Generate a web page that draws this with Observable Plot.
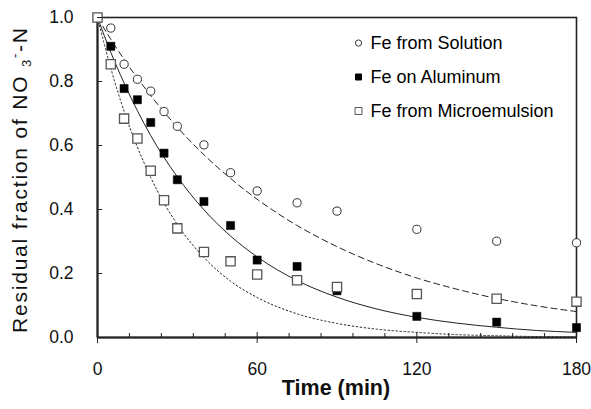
<!DOCTYPE html>
<html><head><meta charset="utf-8">
<script src="https://cdn.jsdelivr.net/npm/d3@7"></script>
<script src="https://cdn.jsdelivr.net/npm/@observablehq/plot@0.6"></script>
<style>
body{margin:0;background:#fff}
svg{font-family:"Liberation Sans",Arial,sans-serif}
</style>
</head><body><div id="chart"></div>
<script>
// measured data
const times = [0, 5, 10, 15, 20, 25, 30, 40, 50, 60, 75, 90, 120, 150, 180];
const solution = [1, 0.967, 0.854, 0.807, 0.770, 0.706, 0.660, 0.602, 0.515, 0.458, 0.421, 0.395, 0.338, 0.301, 0.296];
const aluminum = [1, 0.910, 0.778, 0.743, 0.672, 0.576, 0.493, 0.425, 0.350, 0.242, 0.222, 0.146, 0.066, 0.048, 0.031];
const microemulsion = [1, 0.854, 0.684, 0.622, 0.521, 0.429, 0.341, 0.267, 0.238, 0.197, 0.179, 0.158, 0.136, 0.121, 0.112];
// fitted curves
const fitTimes = [0, 5, 10, 20, 30, 40, 50, 60, 75, 90, 105, 120, 135, 150, 165, 180];
const fitSolution = [1, 0.932, 0.869, 0.756, 0.657, 0.571, 0.497, 0.432, 0.350, 0.284, 0.230, 0.186, 0.151, 0.122, 0.099, 0.081];
const fitAluminum = [1, 0.891, 0.795, 0.631, 0.502, 0.399, 0.317, 0.252, 0.178, 0.126, 0.089, 0.063, 0.045, 0.032, 0.022, 0.016];
const fitMicro = [1, 0.841, 0.707, 0.500, 0.353, 0.250, 0.176, 0.125, 0.074, 0.044, 0.026, 0.016, 0.009, 0.0055, 0.003, 0.002];
const seriesNames = ["Fe from Solution", "Fe on Aluminum", "Fe from Microemulsion"];
const xMajor = [0, 60, 120, 180];
const xMinor = [12, 24, 36, 48, 72, 84, 96, 108, 132, 144, 156, 168];
const yTicks = [0, 0.2, 0.4, 0.6, 0.8, 1.0];

const pts = (vals) => times.map((t, i) => ({t, v: vals[i]}));
const fit = (vals) => fitTimes.map((t, i) => ({t, v: vals[i]}));

const styles = [
  {symbol: "circle", r: 4.1, fill: "white", stroke: "#333", strokeWidth: 1, lr: 3.1},
  {symbol: "square", r: 4.6, fill: "#000", stroke: "#000", strokeWidth: 0.5, lr: 3.4},
  {symbol: "square", r: 5.2, fill: "white", stroke: "#555", strokeWidth: 1.3, lr: 3.9}
];
const data = [solution, aluminum, microemulsion];

const legendMarks = [];
seriesNames.forEach((name, i) => {
  const s = styles[i];
  legendMarks.push(Plot.dot([name], {frameAnchor: "top-left", dx: 261, dy: 25.5 + 34 * i,
    symbol: s.symbol, r: s.lr, fill: s.fill, stroke: s.stroke, strokeWidth: 1}));
  legendMarks.push(Plot.text([name], {text: d => d, frameAnchor: "top-left", dx: 273, dy: 26 + 34 * i,
    textAnchor: "start", lineAnchor: "middle", fontSize: 18, fill: "#000"}));
});

const svg = Plot.plot({
  width: 591, height: 409,
  marginLeft: 97, marginRight: 15, marginTop: 17, marginBottom: 72,
  x: {domain: [0, 180]},
  y: {domain: [0, 1]},
  style: {fontFamily: "'Liberation Sans', Arial, sans-serif", fontSize: "17px", color: "#111", background: "white"},
  marks: [
    Plot.frame({stroke: "#222", strokeWidth: 1.6}),
    Plot.ruleX([0], {stroke: "#222", strokeWidth: 2}),
    Plot.ruleY([0], {stroke: "#222", strokeWidth: 2}),
    Plot.line(fit(fitSolution), {x: "t", y: "v", curve: "monotone-x", stroke: "#222", strokeWidth: 1, strokeDasharray: "6,4"}),
    Plot.line(fit(fitAluminum), {x: "t", y: "v", curve: "monotone-x", stroke: "#222", strokeWidth: 1}),
    Plot.line(fit(fitMicro), {x: "t", y: "v", curve: "monotone-x", stroke: "#222", strokeWidth: 1, strokeDasharray: "1.5,2.5"}),
    ...data.map((vals, i) => Plot.dot(pts(vals), {x: "t", y: "v", symbol: styles[i].symbol, r: styles[i].r,
      fill: styles[i].fill, stroke: styles[i].stroke, strokeWidth: styles[i].strokeWidth})),
    ...legendMarks,
    Plot.axisY(yTicks, {tickSize: 0, tickPadding: 24, tickFormat: d3.format(".1f"), fontSize: 17.5, label: null}),
    Plot.axisY(yTicks, {tickSize: -5, tickFormat: () => "", label: null, stroke: "#222"}),
    Plot.axisX(xMajor, {tickSize: 6, tickPadding: 19, fontSize: 17.5, label: null, stroke: "#222"}),
    Plot.axisX(xMajor, {tickSize: -5, tickFormat: () => "", label: null, stroke: "#222"}),
    Plot.axisX(xMinor, {tickSize: -4, tickFormat: () => "", label: null, stroke: "#222"})
  ]
});

const s = d3.select(svg);
s.append("text")
  .attr("x", 336).attr("y", 395)
  .attr("text-anchor", "middle")
  .attr("font-size", 21.5).attr("font-weight", "bold").attr("fill", "#111")
  .text("Time (min)");

const yt = s.append("text")
  .attr("transform", "translate(27,180.5) rotate(-90)")
  .attr("text-anchor", "middle")
  .attr("font-size", 21).attr("fill", "#111")
  .attr("textLength", 305).attr("lengthAdjust", "spacing");
yt.append("tspan").text("Residual fraction of NO ");
yt.append("tspan").attr("font-size", 13).attr("dy", 4).text("3");
yt.append("tspan").attr("font-size", 13).attr("dy", -12).text("-");
yt.append("tspan").attr("dy", 8).text("-N");

document.getElementById("chart").appendChild(svg);
</script>
</body></html>
